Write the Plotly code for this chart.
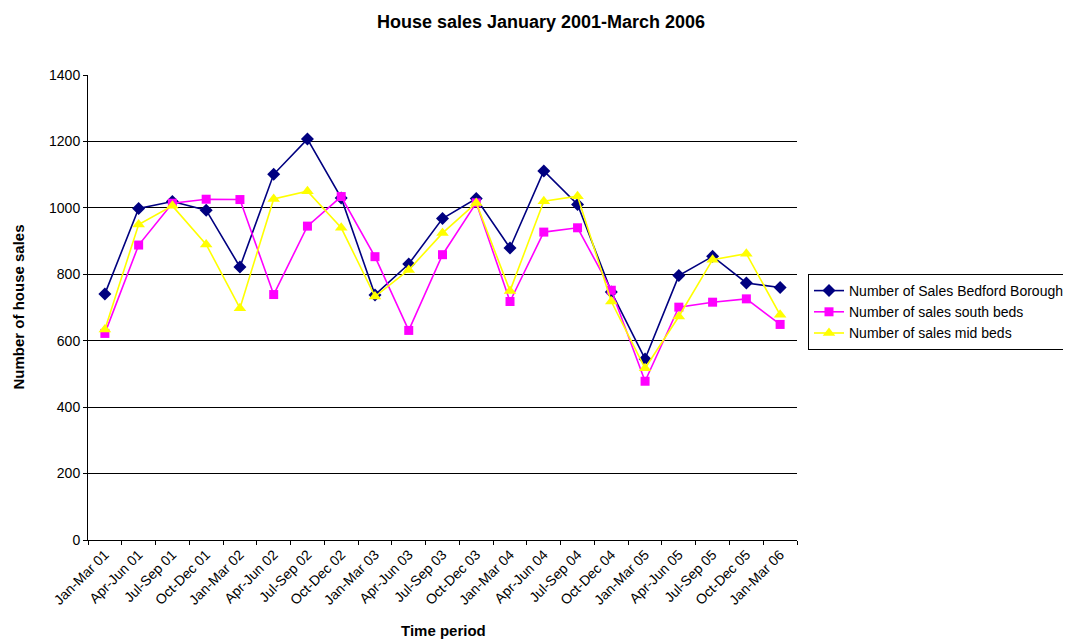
import plotly.graph_objects as go

categories = ["Jan-Mar 01", "Apr-Jun 01", "Jul-Sep 01", "Oct-Dec 01", "Jan-Mar 02", "Apr-Jun 02",
              "Jul-Sep 02", "Oct-Dec 02", "Jan-Mar 03", "Apr-Jun 03", "Jul-Sep 03", "Oct-Dec 03",
              "Jan-Mar 04", "Apr-Jun 04", "Jul-Sep 04", "Oct-Dec 04", "Jan-Mar 05", "Apr-Jun 05",
              "Jul-Sep 05", "Oct-Dec 05", "Jan-Mar 06"]

bedford_borough = [741, 998, 1019, 993, 822, 1101, 1207, 1030, 738, 831, 968, 1028,
                   879, 1111, 1010, 747, 545, 796, 854, 774, 760]
south_beds = [622, 888, 1014, 1026, 1025, 739, 945, 1034, 853, 631, 859, 1015,
              718, 927, 940, 752, 478, 701, 716, 726, 649]
mid_beds = [634, 950, 1006, 890, 698, 1027, 1050, 940, 733, 813, 924, 1015,
            750, 1020, 1035, 718, 517, 673, 844, 862, 678]

series_names = ["Number of Sales Bedford Borough", "Number of sales south beds", "Number of sales mid beds"]

FONT = "Arial, 'Liberation Sans', sans-serif"
OFF = 8  # page body offset

W, H = 1071 - OFF, 641 - OFF
L, T = 88 - OFF, 75 - OFF
PW, PH = 709, 465

fig = go.Figure()
fig.add_trace(go.Scatter(x=categories, y=bedford_borough, name=series_names[0], mode="lines+markers",
                         line=dict(color="#000080", width=1.6),
                         marker=dict(symbol="diamond", size=10, color="#000080")))
fig.add_trace(go.Scatter(x=categories, y=south_beds, name=series_names[1], mode="lines+markers",
                         line=dict(color="#FF00FF", width=1.6),
                         marker=dict(symbol="square", size=9, color="#FF00FF")))
fig.add_trace(go.Scatter(x=categories, y=mid_beds, name=series_names[2], mode="lines+markers",
                         line=dict(color="#FFFF00", width=1.6),
                         marker=dict(symbol="triangle-up", size=11, color="#FFFF00")))

fig.update_layout(
    width=W, height=H,
    margin=dict(l=L, r=W - L - PW, t=T, b=H - T - PH, autoexpand=False),
    paper_bgcolor="white", plot_bgcolor="white",
    font=dict(family=FONT, size=14, color="black"),
    title=dict(text="<b>House sales January 2001-March 2006</b>", x=(541 - OFF) / W, xref="container",
               xanchor="center", y=1 - (22 - OFF) / H, yref="container", yanchor="middle",
               font=dict(size=18, family=FONT, color="black")),
    showlegend=True,
    legend=dict(x=(808 - 88) / PW, xanchor="left", y=(540 - 274) / PH, yanchor="top",
                bordercolor="black", borderwidth=1, bgcolor="white",
                font=dict(size=14, family=FONT, color="black"),
                tracegroupgap=0, itemwidth=30),
    xaxis=dict(type="category", tickson="boundaries", ticks="outside", ticklen=4,
               tickcolor="black", showline=True, linecolor="black", linewidth=1,
               showgrid=False, tickangle=-45, tickfont=dict(size=14, family=FONT),
               range=[-0.5, 20.5], zeroline=False),
    yaxis=dict(range=[0, 1400], dtick=200, ticks="outside", ticklen=4, tickcolor="black",
               showline=True, linecolor="black", linewidth=1, showgrid=True,
               gridcolor="black", gridwidth=1, zeroline=False,
               tickfont=dict(size=14, family=FONT)),
    annotations=[
        dict(text="<b>Number of house sales</b>", xref="paper", yref="paper",
             x=-(88 - 18) / PW, y=0.5, xanchor="center", yanchor="middle", textangle=-90,
             showarrow=False, font=dict(size=15, family=FONT, color="black")),
        dict(text="<b>Time period</b>", xref="paper", yref="paper",
             x=(443 - 88) / PW, y=-(630 - 540) / PH, xanchor="center", yanchor="middle",
             showarrow=False, font=dict(size=15, family=FONT, color="black")),
    ],
)

fig.write_html("out.html")
